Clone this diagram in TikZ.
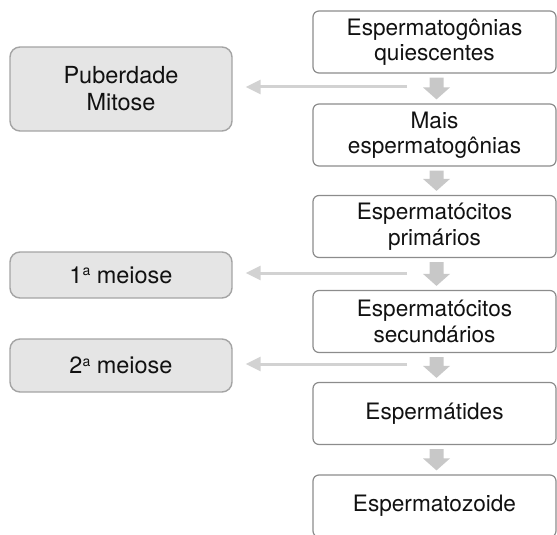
\documentclass[tikz,border=0pt]{standalone}
\usepackage{fontspec}
\setmainfont{TeX Gyre Heros}
\usetikzlibrary{arrows.meta,calc}
\definecolor{rborder}{HTML}{8C8C8C}
\definecolor{lborder}{HTML}{A4A4A4}
\definecolor{lfill}{HTML}{E5E5E5}
\definecolor{arrgray}{HTML}{D2D2D2}
\definecolor{blkgray}{HTML}{C8C8C8}
\definecolor{txt}{HTML}{111111}
\tikzset{
  rbox/.style={draw=rborder, line width=1.2pt, rounded corners=6pt, fill=white,
    minimum width=243pt, minimum height=62pt, align=center, inner sep=0pt,
    text=txt, font=\fontsize{22.6}{25.5}\selectfont},
  lbox/.style={draw=lborder, line width=1.4pt, rounded corners=10pt, fill=lfill,
    minimum width=222pt, align=center, inner sep=0pt,
    text=txt, font=\fontsize{23.5}{27}\selectfont},
  larrow/.style={draw=arrgray, line width=3pt, -{Triangle[length=15pt,width=14pt]}, shorten >=13pt},
  blk/.style={fill=blkgray}
}
\newcommand\ordA{\raisebox{0.6ex}{\fontsize{14}{14}\selectfont a}}
\newcommand\blkarr[2]{%
  \path ($(#1.south)+(2,4)$) coordinate (ba) ($(#2.north)+(2,-4)$) coordinate (bb)
        ($(bb)+(0,-12)$) coordinate (hb);
  \fill[blk] ([xshift=-7pt]ba) -- ([xshift=7pt]ba) -- ([xshift=7pt]ba |- hb)
    -- ([xshift=13.5pt]hb) -- (bb) -- ([xshift=-13.5pt]hb) -- ([xshift=-7pt]ba |- hb) -- cycle;
}
\begin{document}
\begin{tikzpicture}[x=1pt,y=-1pt]
\useasboundingbox (0,0) rectangle (557,535);
\clip (0,0) rectangle (557,535);
% right column
\node[rbox] (b1) at (434.5,42) {Espermatogônias\\quiescentes};
\node[rbox] (b2) at (434.5,135) {Mais\\espermatogônias};
\node[rbox] (b3) at (434.5,226.5) {Espermatócitos\\primários};
\node[rbox] (b4) at (434.5,321.5) {Espermatócitos\\secundários};
\node[rbox] (b5) at (434.5,413.5) {Espermátides};
\node[rbox] (b6) at (434.5,506) {Espermatozoide};
% left column
\node[lbox, minimum height=84pt] (pub) at (121,89) {Puberdade\\Mitose};
\node[lbox, minimum height=46pt] (m1) at (121,275) {1\ordA{} meiose};
\node[lbox, minimum height=53pt] (m2) at (121,365.5) {2\ordA{} meiose};
% block arrows
\blkarr{b1}{b2}
\blkarr{b2}{b3}
\blkarr{b3}{b4}
\blkarr{b4}{b5}
\blkarr{b5}{b6}
% left arrows
\coordinate (s1) at (407,87);
\coordinate (s2) at (407,273);
\coordinate (s3) at (407,364);
\draw[larrow] (s1) -- (pub.east |- s1);
\draw[larrow] (s2) -- (m1.east |- s2);
\draw[larrow] (s3) -- (m2.east |- s3);
\end{tikzpicture}
\end{document}
